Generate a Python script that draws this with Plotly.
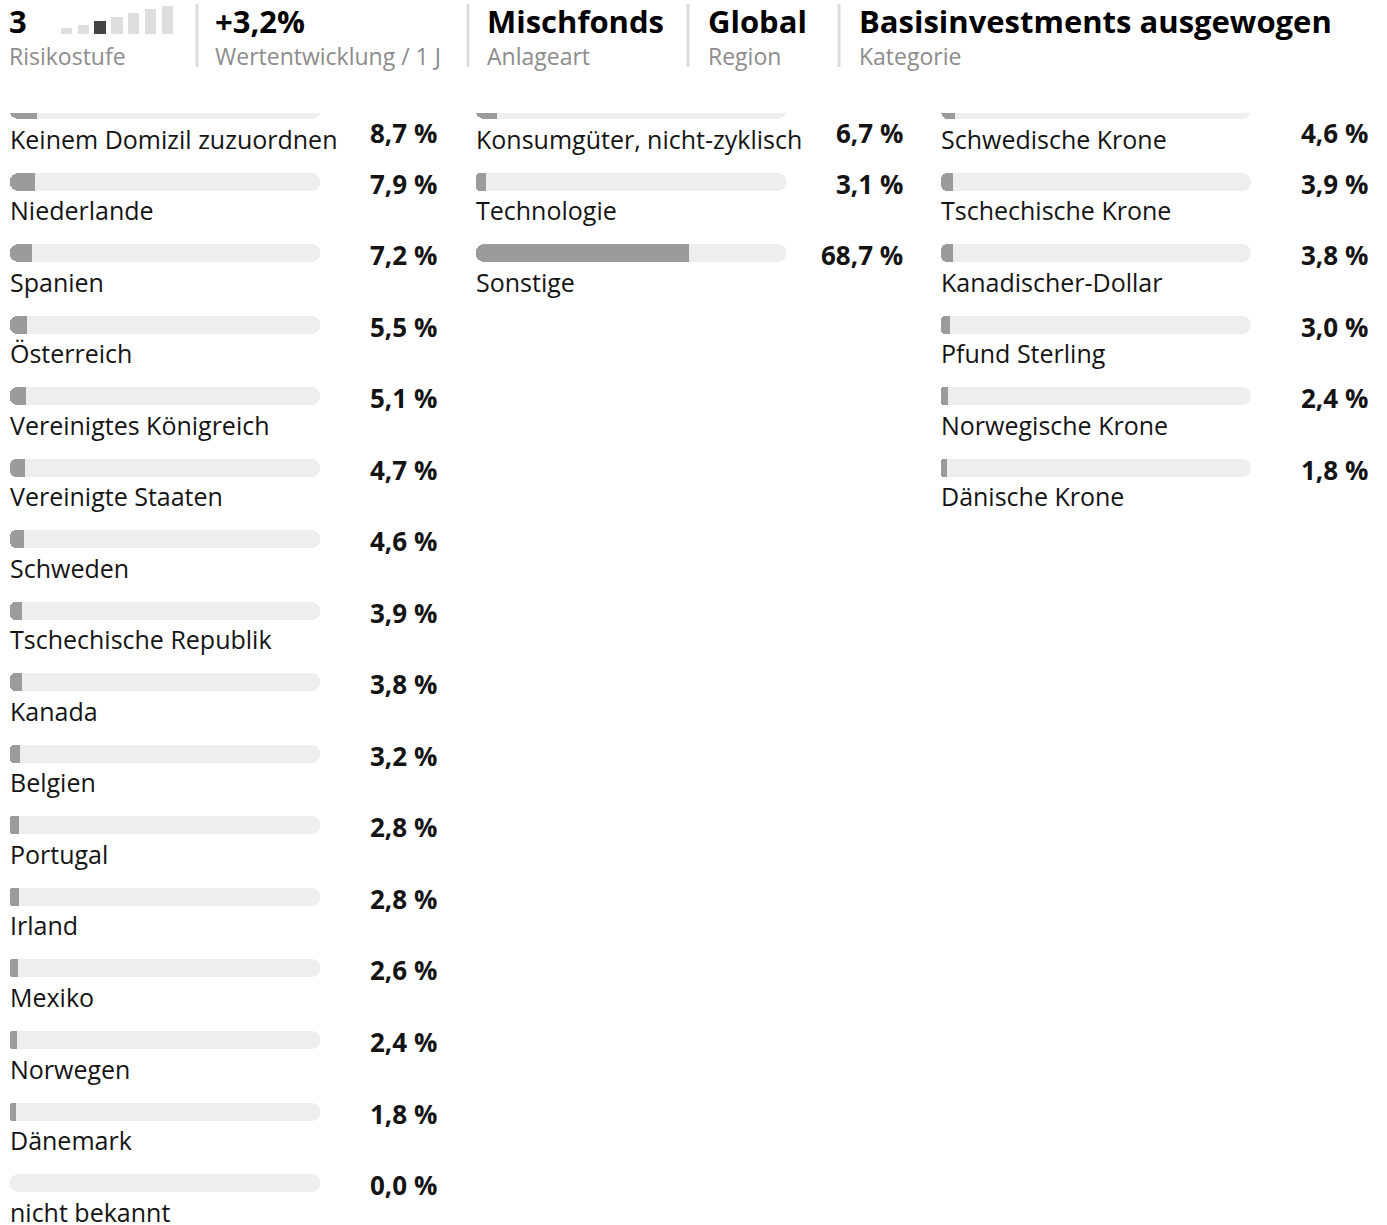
import plotly.graph_objects as go

W, H = 1387, 1225

# ---- Fund key figures (header) ----
risiko_stufe = 3
risiko_skala = [1, 2, 3, 4, 5, 6, 7]
risiko_hoehe = [6.3, 9.3, 13.3, 17.3, 21.3, 25.3, 28.3]
kennzahlen = [
    ("3", "Risikostufe"),
    ("+3,2%", "Wertentwicklung / 1 J"),
    ("Mischfonds", "Anlageart"),
    ("Global", "Region"),
    ("Basisinvestments ausgewogen", "Kategorie"),
]

# ---- Allocation lists ----
laender = [
    "Keinem Domizil zuzuordnen", "Niederlande", "Spanien", "Österreich",
    "Vereinigtes Königreich", "Vereinigte Staaten", "Schweden",
    "Tschechische Republik", "Kanada", "Belgien", "Portugal", "Irland",
    "Mexiko", "Norwegen", "Dänemark", "nicht bekannt",
]
laender_anteil = [8.7, 7.9, 7.2, 5.5, 5.1, 4.7, 4.6, 3.9, 3.8, 3.2, 2.8, 2.8,
                  2.6, 2.4, 1.8, 0.0]

branchen = ["Konsumgüter, nicht-zyklisch", "Technologie", "Sonstige"]
branchen_anteil = [6.7, 3.1, 68.7]

waehrungen = [
    "Schwedische Krone", "Tschechische Krone", "Kanadischer-Dollar",
    "Pfund Sterling", "Norwegische Krone", "Dänische Krone",
]
waehrungen_anteil = [4.6, 3.9, 3.8, 3.0, 2.4, 1.8]

# ---- Layout constants (pixels) ----
LIST_TOP = 113          # top edge of the scrolled list viewport
ROW0 = 110.0            # centre of the first bar
ROW_STEP = 71.54
BAR_H = 18
LABEL_DY = 28.5
VALUE_DY = 2
STICKY_VALUE_Y = 133
TRACK_X = [(9.5, 320.5), (475.5, 786.0), (941.0, 1251.0)]
LABEL_X = [8.5, 474.5, 940]
VALUE_RIGHT = [438, 904, 1369]

FILL = "#9b9b9b"
TRACK = "#eeeeee"
TEXT = "#141414"
GREY = "#8c8c8c"
FONT = "Open Sans"

fig = go.Figure()
annotations = []

spalten = [(laender, laender_anteil), (branchen, branchen_anteil),
           (waehrungen, waehrungen_anteil)]

for c, (namen, werte) in enumerate(spalten):
    xa = "x" if c == 0 else f"x{c + 1}"
    ys = [ROW0 + i * ROW_STEP for i in range(len(namen))]
    n = len(ys)
    # grey track, rounded at both ends
    fig.add_trace(go.Bar(
        x=[100] * n, base=[0] * n, y=ys, orientation="h",
        width=BAR_H, marker=dict(color=TRACK, cornerradius=BAR_H / 2,
                                 line=dict(width=0)),
        xaxis=xa, yaxis="y", hoverinfo="skip", showlegend=False))
    # share bar, rounded body ...
    fig.add_trace(go.Bar(
        x=werte, base=[0] * n, y=ys, orientation="h",
        width=BAR_H, marker=dict(color=FILL, cornerradius=BAR_H / 2,
                                 line=dict(width=0)),
        xaxis=xa, yaxis="y", customdata=namen,
        hovertemplate="%{customdata}: %{x:.1f} %<extra></extra>",
        showlegend=False))
    # ... with a square right-hand end
    fig.add_trace(go.Bar(
        x=[v / 2 for v in werte], base=[v / 2 for v in werte], y=ys,
        orientation="h", width=BAR_H,
        marker=dict(color=FILL, line=dict(width=0)),
        xaxis=xa, yaxis="y", hoverinfo="skip", showlegend=False))

    for name, v, y in zip(namen, werte, ys):
        annotations.append(dict(
            text=name, x=LABEL_X[c] / W, xref="paper", xanchor="left",
            y=y + LABEL_DY, yref="y", yanchor="middle", showarrow=False,
            borderpad=0, font=dict(family=FONT, size=25, color=TEXT)))
        annotations.append(dict(
            text=f"{v:.1f}".replace(".", ",") + " %",
            x=VALUE_RIGHT[c] / W, xref="paper", xanchor="right",
            y=max(y + VALUE_DY, STICKY_VALUE_Y), yref="y", yanchor="middle",
            showarrow=False, borderpad=0,
            font=dict(family=FONT, size=26, color=TEXT, weight="bold")))

# risk scale icon
fig.add_trace(go.Bar(
    x=risiko_skala, y=risiko_hoehe, width=0.68,
    marker=dict(color=["#444444" if s == risiko_stufe else "#dedede"
                       for s in risiko_skala], line=dict(width=0)),
    xaxis="x4", yaxis="y2", hoverinfo="skip", showlegend=False))

# header texts
kopf_x = [8, 214, 486, 707, 858]
for (wert, titel), px in zip(kennzahlen, kopf_x):
    annotations.append(dict(
        text=wert, x=px / W, xref="paper", xanchor="left",
        y=1 - 21 / H, yref="paper", yanchor="middle", showarrow=False,
        borderpad=0,
        font=dict(family=FONT, size=31, color="#000000", weight="bold")))
    annotations.append(dict(
        text=titel, x=px / W, xref="paper", xanchor="left",
        y=1 - 56 / H, yref="paper", yanchor="middle", showarrow=False,
        borderpad=0, font=dict(family=FONT, size=23, color=GREY)))

shapes = []
for sx in [197, 468, 688, 839]:
    shapes.append(dict(type="line", xref="paper", yref="paper",
                       x0=sx / W, x1=sx / W, y0=1 - 4 / H, y1=1 - 67 / H,
                       line=dict(color="#dcdcdc", width=3)))


def xdom(a, b):
    return [a / W, b / W]


hidden = dict(showgrid=False, zeroline=False, showticklabels=False,
              ticks="", showline=False, fixedrange=True)

fig.update_layout(
    width=W, height=H, margin=dict(l=0, r=0, t=0, b=0),
    paper_bgcolor="white", plot_bgcolor="rgba(0,0,0,0)",
    barmode="overlay", bargap=0,
    xaxis=dict(domain=xdom(*TRACK_X[0]), range=[0, 100], anchor="y", **hidden),
    xaxis2=dict(domain=xdom(*TRACK_X[1]), range=[0, 100], anchor="y", **hidden),
    xaxis3=dict(domain=xdom(*TRACK_X[2]), range=[0, 100], anchor="y", **hidden),
    yaxis=dict(domain=[0, 1 - LIST_TOP / H], range=[H, LIST_TOP], **hidden),
    xaxis4=dict(domain=xdom(57.6, 175.4), range=[0.5, 7.5], anchor="y2",
                **hidden),
    yaxis2=dict(domain=[1 - 34.3 / H, 1 - 6 / H], range=[0, 28.3],
                anchor="x4", **hidden),
    annotations=annotations, shapes=shapes,
    font=dict(family=FONT),
)

fig.write_html("out.html")
